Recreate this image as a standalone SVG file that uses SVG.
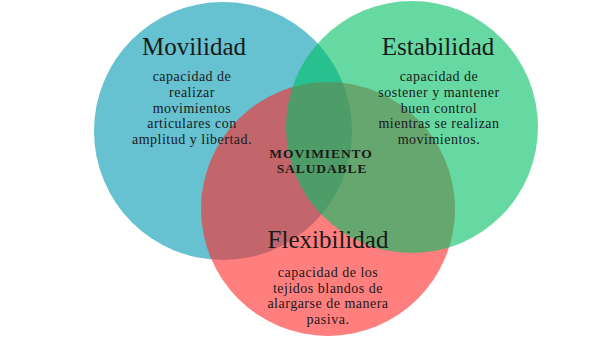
<svg xmlns="http://www.w3.org/2000/svg" width="600" height="338" viewBox="0 0 600 338">
<style>
.c{opacity:0.6}
text{font-family:"Liberation Serif","DejaVu Serif",serif;fill:#1a1a1a;text-anchor:middle}
.t{font-size:25px}
.b{font-size:14px;letter-spacing:0.5px}
.m{font-size:13.5px;font-weight:bold;letter-spacing:0.9px}
</style>
<rect width="600" height="338" fill="#ffffff"/>
<g id="movilidad">
<circle class="c" cx="223" cy="131" r="129" fill="#0098B1"/>
</g>
<g id="flexibilidad">
<circle class="c" cx="328" cy="209" r="127" fill="#FF2A2A"/>
</g>
<g id="estabilidad">
<circle class="c" cx="412" cy="127" r="126" fill="#00C064"/>
</g>
<g id="connectors"></g>
<g id="labels">
<text class="t" x="194" y="55">Movilidad</text>
<text class="b" x="192" y="81">capacidad de</text>
<text class="b" x="192" y="97">realizar</text>
<text class="b" x="192" y="112.5">movimientos</text>
<text class="b" x="192" y="128">articulares con</text>
<text class="b" x="192" y="144">amplitud y libertad.</text>
<text class="t" x="438" y="55">Estabilidad</text>
<text class="b" x="439" y="81">capacidad de</text>
<text class="b" x="439" y="97">sostener y mantener</text>
<text class="b" x="439" y="112.5">buen control</text>
<text class="b" x="439" y="128">mientras se realizan</text>
<text class="b" x="439" y="143.5">movimientos.</text>
<text class="m" x="321" y="158">MOVIMIENTO</text>
<text class="m" x="322" y="173">SALUDABLE</text>
<text class="t" x="328" y="248">Flexibilidad</text>
<text class="b" x="328" y="277">capacidad de los</text>
<text class="b" x="328" y="292.5">tejidos blandos de</text>
<text class="b" x="328" y="308">alargarse de manera</text>
<text class="b" x="328" y="323.5">pasiva.</text>
</g>
</svg>
